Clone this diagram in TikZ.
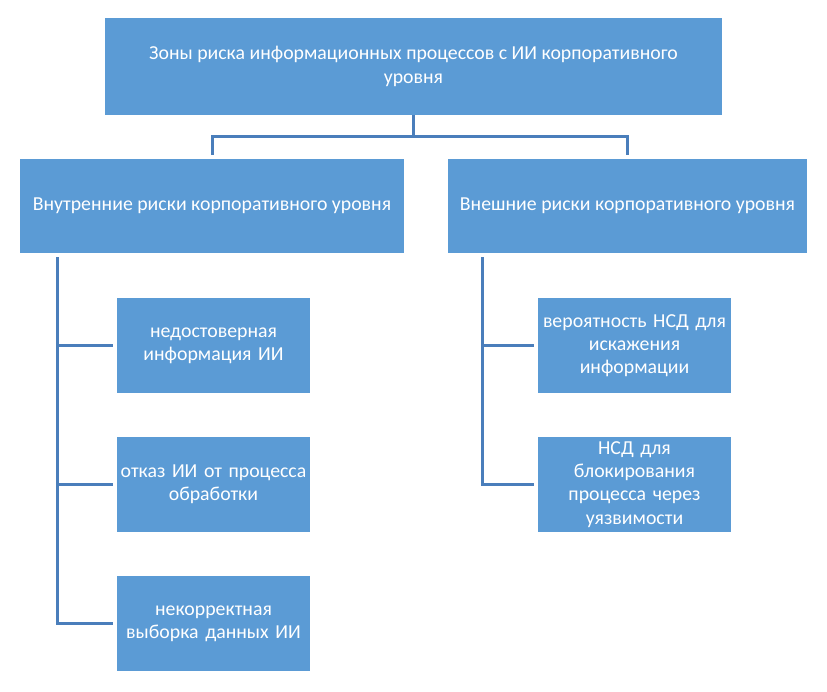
\documentclass[tikz,border=0pt]{standalone}
\usepackage{fontspec}
\setmainfont{Carlito}
\usepackage{tikz}
\usetikzlibrary{positioning}
\definecolor{boxblue}{HTML}{5B9BD5}
\definecolor{lineblue}{HTML}{4A7EBB}

\begin{document}
\begin{tikzpicture}[x = 1pt, y = 1pt, node distance = 44pt]
  \useasboundingbox (0,0) rectangle (827,-691);
  \tikzset{BoxStyle/.style   = {shape          = rectangle,
                                fill           = boxblue,
                                text           = white,
                                align          = center,
                                inner sep      = 0pt,
                                outer sep      = 0pt,
                                font           = \fontsize{19.8}{23.3}\selectfont}}
  \tikzset{ChildStyle/.style = {BoxStyle,
                                minimum width  = 193pt,
                                minimum height = 95pt,
                                text width     = 193pt}}
  \tikzset{EdgeStyle/.style  = {draw           = lineblue,
                                line width     = 3pt}}
     \node[BoxStyle, minimum width = 617pt, minimum height = 97pt] (Top) at (413.5,-66.5)
       {Зоны риска информационных процессов с ИИ корпоративного\\уровня};
     \node[BoxStyle, minimum width = 384pt, minimum height = 94pt] (Inner) at (212,-206)
       {Внутренние риски корпоративного уровня};
     \node[BoxStyle, minimum width = 359pt, minimum height = 94pt] (Outer) at (627.5,-206)
       {Внешние риски корпоративного уровня};
     % internal risks
     \node[ChildStyle] (In1) at (213.5,-345.5) {недостоверная\\информация ИИ};
     \node[ChildStyle, below=of In1] (In2) {отказ ИИ от процесса\\обработки};
     \node[ChildStyle, below=of In2] (In3) {некорректная\\выборка данных ИИ};
     % external risks
     \node[ChildStyle] (Ex1) at (634.5,-345.5) {вероятность НСД для\\искажения\\информации};
     \node[ChildStyle, below=of Ex1] (Ex2) {НСД для\\блокирования\\процесса через\\уязвимости};
     \coordinate (InSpine) at ([xshift=37pt, yshift=-4pt]Inner.south west);
     \coordinate (ExSpine) at ([xshift=34pt, yshift=-4pt]Outer.south west);
     \draw[EdgeStyle] (Top.south) -- ++(0,-21) -| ([yshift=4pt]Inner.north);
     \draw[EdgeStyle] (Top.south) -- ++(0,-21) -| ([yshift=4pt]Outer.north);
     \draw[EdgeStyle] (InSpine) |- ([xshift=-4pt]In3.west);
     \draw[EdgeStyle] (InSpine |- In1.west) -- ([xshift=-4pt]In1.west);
     \draw[EdgeStyle] (InSpine |- In2.west) -- ([xshift=-4pt]In2.west);
     \draw[EdgeStyle] (ExSpine) |- ([xshift=-4pt]Ex2.west);
     \draw[EdgeStyle] (ExSpine |- Ex1.west) -- ([xshift=-4pt]Ex1.west);
  \end{tikzpicture}
\end{document}
